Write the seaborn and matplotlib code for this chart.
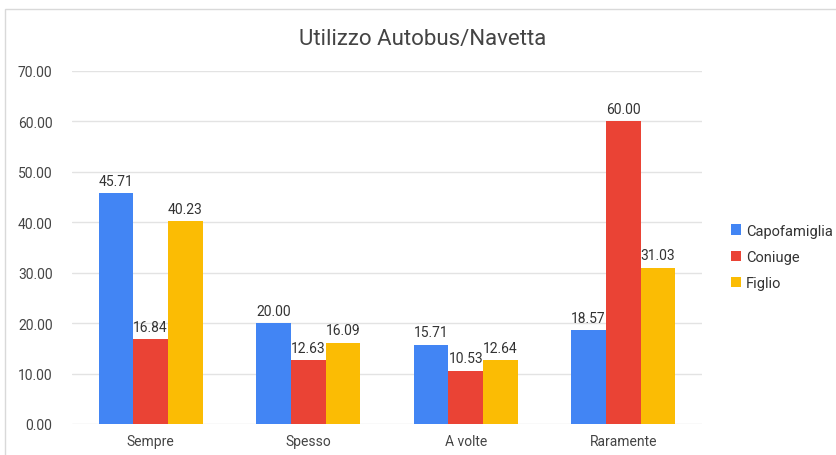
import matplotlib
matplotlib.use("Agg")
import matplotlib.pyplot as plt
import pandas as pd
import seaborn as sns
from matplotlib.patches import Rectangle

###############################################
# data
###############################################
categories = ["Sempre", "Spesso", "A volte", "Raramente"]
series_names = ["Capofamiglia", "Coniuge", "Figlio"]
capofamiglia = [45.71, 20.00, 15.71, 18.57]
coniuge = [16.84, 12.63, 10.53, 60.00]
figlio = [40.23, 16.09, 12.64, 31.03]
y_ticks = [0, 10, 20, 30, 40, 50, 60, 70]

colors = ["#4285F4", "#EA4335", "#FBBC04"]

# long format for seaborn
rows = []
for name, vals in zip(series_names, [capofamiglia, coniuge, figlio]):
    for cat, v in zip(categories, vals):
        rows.append({"categoria": cat, "serie": name, "valore": v})
df = pd.DataFrame(rows)

###############################################
# figure setup
###############################################
sns.set_style("white")
plt.rcParams["font.family"] = ["Roboto", "DejaVu Sans"]

fig = plt.figure(figsize=(8.37, 4.56), dpi=100)
ax = fig.add_axes([72 / 837, 1 - 425 / 456, 630 / 837, 353 / 456])

# light border of the chart box (top and left edges visible)
fig.patches.append(
    Rectangle((5 / 837, -0.2), 1.2, 1.2 - 10 / 456,
              transform=fig.transFigure, fill=False,
              edgecolor="#d9d9d9", linewidth=1.0)
)

sns.barplot(
    data=df, x="categoria", y="valore", hue="serie",
    order=categories, hue_order=series_names,
    palette=colors, width=0.66, gap=0, saturation=1,
    edgecolor="none", ax=ax,
)

# data labels
for cont in ax.containers:
    ax.bar_label(cont, fmt="%.2f", padding=4, fontsize=10, color="#333333")

###############################################
# axes styling
###############################################
ax.set_ylim(0, 70)
ax.set_yticks(y_ticks)
ax.set_yticklabels([f"{t:.2f}" for t in y_ticks])
ax.set_xlim(-0.5, 3.5)
ax.yaxis.grid(True, color="#e3e3e3", linewidth=1.0)
ax.set_axisbelow(True)
for s in ax.spines.values():
    s.set_visible(False)
ax.tick_params(axis="both", length=0, labelsize=10, colors="#444444")
ax.tick_params(axis="y", pad=14)
ax.tick_params(axis="x", pad=7)
ax.set_xlabel("")
ax.set_ylabel("")

fig.text(0.505, 1 - 39 / 456, "Utilizzo Autobus/Navetta",
         ha="center", va="center", fontsize=16, color="#444444")

ax.legend(
    loc="center left", bbox_to_anchor=(718 / 837, 1 - 258 / 456),
    bbox_transform=fig.transFigure, frameon=False,
    handlelength=0.7, handleheight=0.7, handletextpad=0.3,
    labelspacing=0.85, fontsize=10.5, labelcolor="#333333",
)

fig.savefig("out.png", dpi=100)
